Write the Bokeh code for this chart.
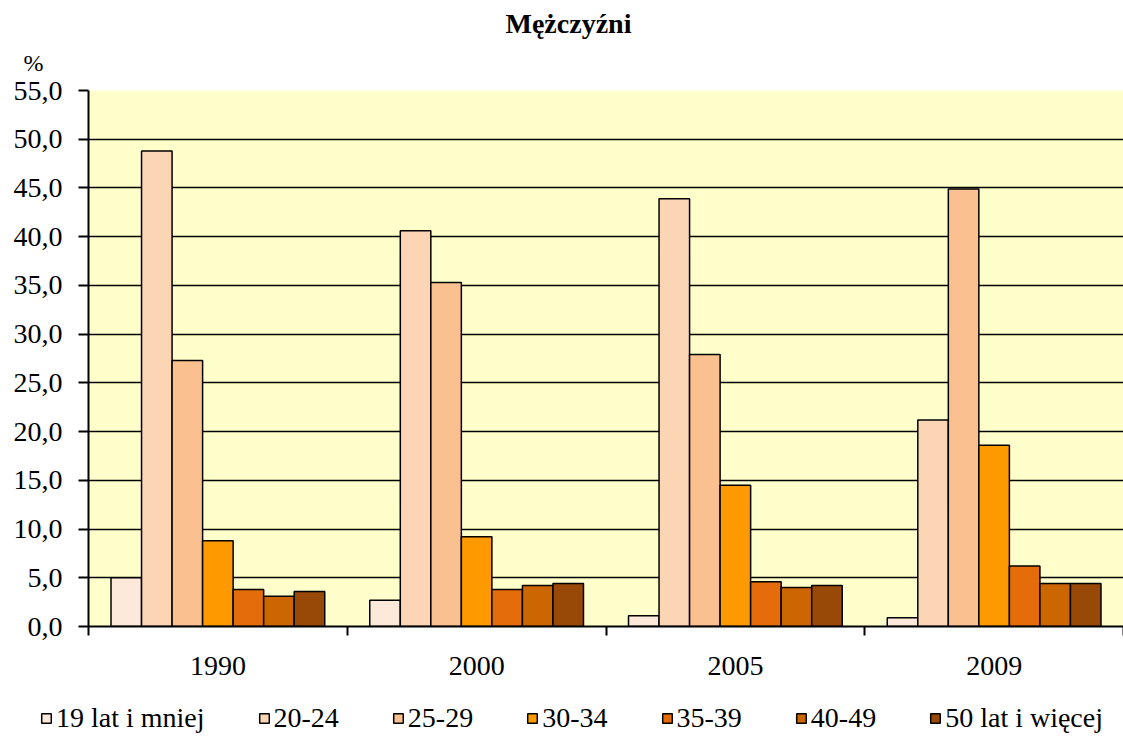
from bokeh.plotting import figure
from bokeh.layouts import column, row
from bokeh.models import ColumnDataSource, FixedTicker, Legend, LegendItem, Title
from bokeh.transform import dodge
from bokeh.embed import file_html
from bokeh.resources import INLINE

years = ["1990", "2000", "2005", "2009"]
groups = ["19 lat i mniej", "20-24", "25-29", "30-34", "35-39", "40-49", "50 lat i więcej"]
v_19 = [5.0, 2.7, 1.1, 0.9]
v_20_24 = [48.8, 40.6, 43.9, 21.2]
v_25_29 = [27.3, 35.3, 27.9, 44.9]
v_30_34 = [8.8, 9.2, 14.5, 18.6]
v_35_39 = [3.8, 3.8, 4.6, 6.2]
v_40_49 = [3.1, 4.2, 4.0, 4.4]
v_50 = [3.6, 4.4, 4.2, 4.4]
series = [v_19, v_20_24, v_25_29, v_30_34, v_35_39, v_40_49, v_50]
colors = ["#FDE9D9", "#FCD5B4", "#FAC090", "#FF9900", "#E46C0A", "#CC6600", "#984807"]
y_ticks = [0, 5, 10, 15, 20, 25, 30, 35, 40, 45, 50, 55]

FONT = "Liberation Serif"

xc = [i + 0.5 for i in range(len(years))]
data = {"x": xc}
for k, s in enumerate(series):
    data[f"s{k}"] = s
src = ColumnDataSource(data)

p = figure(width=1123, height=700, x_range=(0, len(years)), y_range=(0, 55),
           output_backend="svg", toolbar_location=None, title=None,
           min_border_left=88, min_border_right=0, min_border_top=90, min_border_bottom=74)
p.background_fill_color = "#FFFFCC"
p.border_fill_color = "white"
p.outline_line_color = None

bw = 0.118
for k in range(len(series)):
    p.vbar(x=dodge("x", (k - 3) * bw), top=f"s{k}", width=bw, bottom=0, source=src,
           fill_color=colors[k], line_color="black", line_width=1.5)

# y axis
p.yaxis.ticker = FixedTicker(ticks=y_ticks)
p.yaxis.major_label_overrides = {t: f"{t:.1f}".replace(".", ",") for t in y_ticks}
p.yaxis.major_label_text_font = FONT
p.yaxis.major_label_text_font_size = "28px"
p.yaxis.major_label_text_color = "black"
p.yaxis.major_tick_out = 10
p.yaxis.major_tick_in = 0
p.yaxis.major_tick_line_width = 2
p.yaxis.major_tick_line_color = "black"
p.yaxis.minor_tick_line_color = None
p.yaxis.axis_line_width = 2
p.yaxis.axis_line_color = "black"
p.yaxis.major_label_standoff = 16

# x axis
p.xaxis.ticker = FixedTicker(ticks=xc, minor_ticks=list(range(len(years) + 1)))
p.xaxis.major_label_overrides = {x: y for x, y in zip(xc, years)}
p.xaxis.major_label_text_font = FONT
p.xaxis.major_label_text_font_size = "28px"
p.xaxis.major_label_text_color = "black"
p.xaxis.major_tick_out = 0
p.xaxis.major_tick_in = 0
p.xaxis.minor_tick_out = 9
p.xaxis.minor_tick_in = 0
p.xaxis.minor_tick_line_color = "black"
p.xaxis.minor_tick_line_width = 2
p.xaxis.axis_line_width = 2
p.xaxis.axis_line_color = "black"
p.xaxis.major_label_standoff = 21

p.xgrid.grid_line_color = None
p.ygrid.grid_line_color = "black"
p.ygrid.grid_line_width = 1.5
p.ygrid.ticker = FixedTicker(ticks=y_ticks)

pct = Title(text="%", align="left", offset=-65, standoff=30,
            text_font=FONT, text_font_size="24px", text_font_style="normal", text_color="black")
p.add_layout(pct, "above")
main_title = Title(text="Mężczyźni", align="left", offset=417, standoff=-13,
                   text_font=FONT, text_font_size="28px", text_font_style="bold", text_color="black")
p.add_layout(main_title, "above")

# legend strip below the chart
lf = figure(width=1123, height=36, x_range=(0, 1), y_range=(0, 1),
            x_axis_type=None, y_axis_type=None, output_backend="svg", toolbar_location=None,
            min_border=0, min_border_left=0, min_border_right=0)
lf.outline_line_color = None
lf.background_fill_color = "white"
leg_renderers = []
for k in range(len(series)):
    r = lf.vbar(x="x", top=f"s{k}", width=bw, bottom=0, source=src,
                fill_color=colors[k], line_color="black", line_width=1.5)
    r.visible = False
    leg_renderers.append(r)

legend = Legend(items=[LegendItem(label=g, renderers=[r]) for g, r in zip(groups, leg_renderers)],
                orientation="horizontal", location=(40, 2),
                label_text_font=FONT, label_text_font_size="28px", label_text_color="black",
                glyph_width=12, glyph_height=12, label_standoff=4, spacing=53,
                padding=0, margin=0, border_line_color=None, background_fill_alpha=0)
lf.add_layout(legend, "center")

layout = column(p, row(lf, spacing=0), spacing=0)
open("out.html", "w").write(file_html(layout, INLINE))
